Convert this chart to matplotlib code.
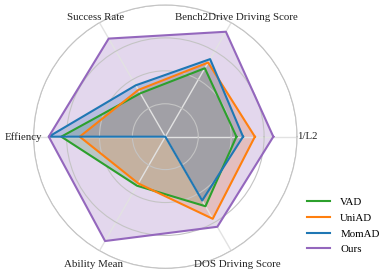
import numpy as np
import matplotlib
matplotlib.use("Agg")
import matplotlib.pyplot as plt

plt.rcParams['font.family'] = ['Liberation Serif', 'DejaVu Serif']

categories = ["1/L2", "Bench2Drive Driving Score", "Success Rate",
              "Effiency", "Ability Mean", "DOS Driving Score"]
vad = [0.54, 0.60, 0.38, 0.79, 0.43, 0.61]
uniad = [0.68, 0.65, 0.41, 0.65, 0.41, 0.72]
momad = [0.59, 0.68, 0.45, 0.885, 0.0, 0.56]
ours = [0.82, 0.92, 0.86, 0.885, 0.915, 0.79]
series_names = ["VAD", "UniAD", "MomAD", "Ours"]
series_values = [vad, uniad, momad, ours]
colors = ["#2ca02c", "#ff7f0e", "#1f77b4", "#9467bd"]

n = len(categories)
angles = np.arange(n) * 2 * np.pi / n

fig = plt.figure(figsize=(3.9, 2.75), dpi=100)
ax = fig.add_axes([0.0862, 0.024, 0.6754, 0.958], projection='polar')
ax.set_ylim(0, 1)
ax.set_axisbelow(False)

for name, vals, c in zip(series_names, series_values, colors):
    a = np.concatenate([angles, angles[:1]])
    v = np.concatenate([vals, vals[:1]])
    ax.fill(a, v, color=c, alpha=0.26, zorder=2, linewidth=0)
    ax.plot(a, v, color=c, linewidth=1.5, label=name, zorder=3)

ax.set_yticks([0.25, 0.5, 0.75, 1.0])
ax.set_yticklabels([])
ax.set_xticks(angles)
ax.set_xticklabels([])
ax.yaxis.grid(True, color="#c4c4c4", linewidth=0.8)
ax.xaxis.grid(True, color="#e2e2e2", linewidth=1.0)
ax.spines['polar'].set_color("#c4c4c4")
ax.spines['polar'].set_linewidth(0.8)

fs = 7.8
# label positions (angle in degrees, radius)
label_pos = [(0, 1.077), (59.2, 1.05), (120.5, 1.05),
             (180, 1.078), (240.7, 1.11), (299.3, 1.11)]
for lab, (ang, r) in zip(categories, label_pos):
    ax.text(np.deg2rad(ang), r, lab, ha='center', va='center',
            fontsize=fs, color="#222222", clip_on=False)

leg = fig.legend(loc='upper left', bbox_to_anchor=(0.775, 0.297), frameon=False,
                 fontsize=fs, handlelength=2.2, handletextpad=0.9,
                 labelspacing=0.56, borderaxespad=0, borderpad=0.4)

fig.savefig("out.png", dpi=100)
